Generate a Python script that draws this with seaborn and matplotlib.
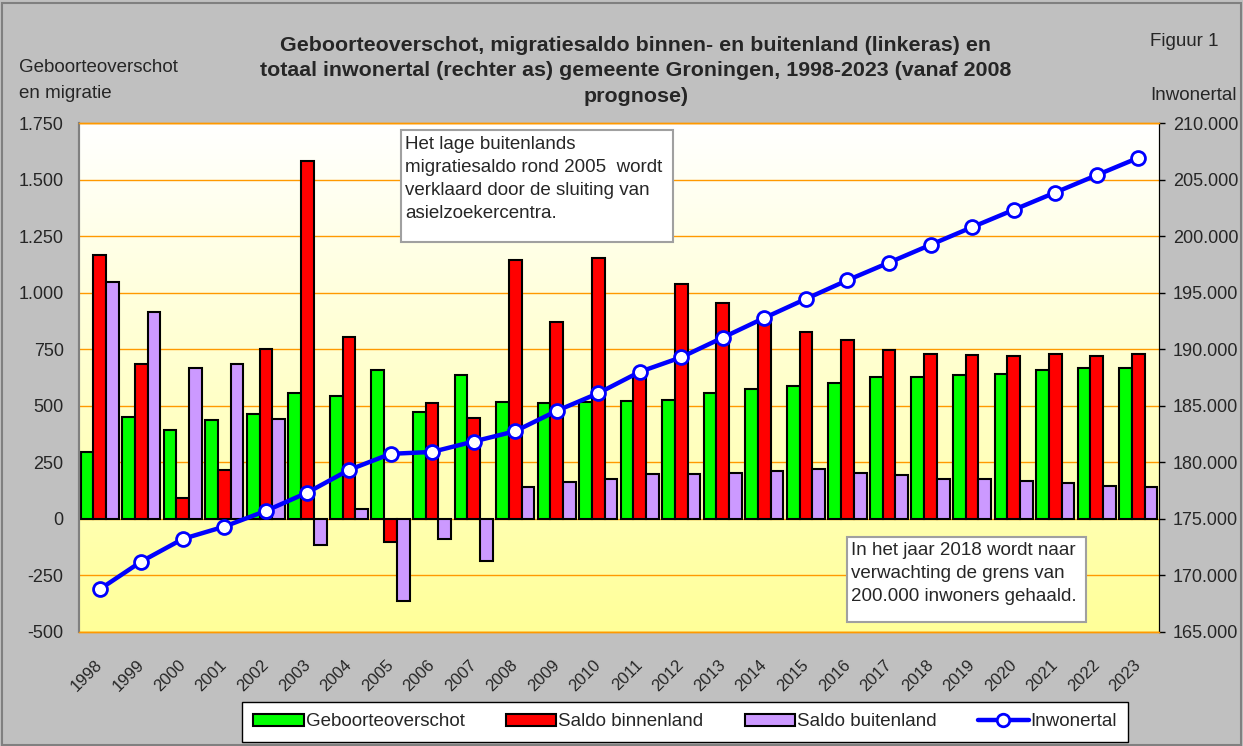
import matplotlib
matplotlib.use("Agg")
import matplotlib.pyplot as plt
import matplotlib.transforms as mtransforms
import numpy as np
import pandas as pd
import seaborn as sns
from matplotlib.lines import Line2D
from matplotlib.patches import Patch, Rectangle
from matplotlib.ticker import FuncFormatter, MultipleLocator

# waarden
jaren = [str(j) for j in range(1998, 2024)]
geboorteoverschot = [297, 449, 393, 435, 464, 555, 545, 657, 473, 636, 517, 513, 518,
                     522, 526, 557, 575, 588, 600, 626, 629, 638, 641, 660, 667, 665]
saldo_binnenland = [1167, 684, 94, 215, 753, 1580, 804, -100, 513, 445, 1145, 872, 1152,
                    629, 1037, 956, 880, 825, 790, 747, 728, 725, 722, 728, 720, 728]
saldo_buitenland = [1045, 913, 665, 684, 442, -115, 44, -365, -88, -184, 143, 161, 177,
                    197, 197, 205, 212, 221, 203, 193, 178, 177, 166, 158, 146, 141]
inwonertal = [168780, 171230, 173230, 174320, 175710, 177330, 179330, 180750, 180920,
              181840, 182750, 184550, 186110, 188000, 189290, 191030, 192770, 194450,
              196100, 197660, 199230, 200790, 202320, 203850, 205390, 206920]

reeksen = ["Geboorteoverschot", "Saldo binnenland", "Saldo buitenland"]
kleuren = ["#00FF00", "#FF0000", "#CC99FF"]

df = pd.DataFrame({"jaar": jaren,
                   reeksen[0]: geboorteoverschot,
                   reeksen[1]: saldo_binnenland,
                   reeksen[2]: saldo_buitenland})
df = df.melt(id_vars="jaar", var_name="reeks", value_name="waarde")


def nl(v, pos=None):
    return f"{v:,.0f}".replace(",", ".")


sns.set_style("white")
plt.rcParams["font.family"] = ["Liberation Sans", "DejaVu Sans"]

W, H = 1243, 746
fig = plt.figure(figsize=(W / 100, H / 100), dpi=100)
fig.patch.set_facecolor("#C0C0C0")

rect = [79 / W, 1 - 632 / H, (1159 - 79) / W, (632 - 123) / H]

# achtergrond met verloop wit -> lichtgeel
bg = fig.add_axes(rect, zorder=0)
t = np.linspace(0, 1, 256)[:, None, None]
img = np.array([1, 1, 1]) + (np.array([1, 1, 0.6]) - np.array([1, 1, 1])) * t
bg.imshow(img, aspect="auto", extent=[0, 1, 0, 1], origin="upper")
bg.axis("off")

ax = fig.add_axes(rect, zorder=1)
ax.patch.set_alpha(0)
sns.barplot(data=df, x="jaar", y="waarde", hue="reeks", palette=kleuren,
            width=0.92, edgecolor="black", linewidth=1.5, saturation=1,
            legend=False, ax=ax)
ax.set_ylim(-500, 1750)
ax.yaxis.set_major_locator(MultipleLocator(250))
ax.yaxis.set_major_formatter(FuncFormatter(nl))
ax.grid(axis="y", color="#FF9900", lw=1)
ax.set_axisbelow(True)
ax.set_xlabel("")
ax.set_ylabel("")
ax.tick_params(axis="y", length=0, labelsize=13, pad=11)
ax.tick_params(axis="x", length=0, labelsize=12, pad=18, rotation=45)
shift = mtransforms.ScaledTranslation(-5 / 100, 0, fig.dpi_scale_trans)
for lbl in ax.get_xticklabels():
    lbl.set_ha("right")
    lbl.set_rotation_mode("anchor")
    lbl.set_transform(lbl.get_transform() + shift)

tw = ax.twinx()
tw.set_zorder(2)
sns.lineplot(x=jaren, y=inwonertal, ax=tw, color="#0000FF", lw=3.2, marker="o",
             markersize=10, markerfacecolor="white", markeredgecolor="#0000FF",
             markeredgewidth=2)
tw.set_ylim(165000, 210000)
tw.yaxis.set_major_locator(MultipleLocator(5000))
tw.yaxis.set_major_formatter(FuncFormatter(nl))
tw.set_ylabel("")
tw.grid(False)
tw.tick_params(axis="y", direction="out", length=4, width=1, color="black",
               labelsize=13, pad=6, right=True)
ax.set_xlim(-0.5, 25.5)

for a in (ax, tw):
    a.spines["left"].set_color("#808080")
    a.spines["left"].set_linewidth(1.5)
    a.spines["right"].set_color("black")
    a.spines["top"].set_color("#FF9900")
    a.spines["bottom"].set_color("#FF9900")
    a.spines["top"].set_linewidth(1)
    a.spines["bottom"].set_linewidth(1)

# teksten rond de grafiek
fig.text(636 / W, 1 - 71 / H,
         "Geboorteoverschot, migratiesaldo binnen- en buitenland (linkeras) en\n"
         "totaal inwonertal (rechter as) gemeente Groningen, 1998-2023 (vanaf 2008\n"
         "prognose)", ha="center", va="center", fontsize=15.4, fontweight="bold",
         linespacing=1.45)
fig.text(19 / W, 1 - 68 / H, "Geboorteoverschot", fontsize=13.5, va="center")
fig.text(19 / W, 1 - 93 / H, "en migratie", fontsize=13.5, va="center")
fig.text(1150 / W, 1 - 42 / H, "Figuur 1", fontsize=13.5, va="center")
fig.text(1150 / W, 1 - 95 / H, "Inwonertal", fontsize=13.5, va="center")

# toelichtingen
fig.add_artist(Rectangle((401 / W, 1 - 242 / H), (673 - 401) / W, (242 - 130) / H,
                         transform=fig.transFigure, facecolor="white",
                         edgecolor="#A0A0A0", lw=1.5, zorder=5))
fig.text(405 / W, 1 - 136 / H,
         "Het lage buitenlands\nmigratiesaldo rond 2005  wordt\n"
         "verklaard door de sluiting van\nasielzoekercentra.",
         fontsize=13.5, va="top", linespacing=1.47, zorder=6)
fig.add_artist(Rectangle((847 / W, 1 - 622 / H), (1086 - 847) / W, (622 - 537) / H,
                         transform=fig.transFigure, facecolor="white",
                         edgecolor="#A0A0A0", lw=1.5, zorder=5))
fig.text(851 / W, 1 - 542 / H,
         "In het jaar 2018 wordt naar\nverwachting de grens van\n"
         "200.000 inwoners gehaald.",
         fontsize=13.5, va="top", linespacing=1.47, zorder=6)

handles = [Patch(facecolor=c, edgecolor="black", lw=1.5) for c in kleuren]
handles.append(Line2D([], [], color="#0000FF", lw=3.2, marker="o", markersize=9,
                      markerfacecolor="white", markeredgecolor="#0000FF",
                      markeredgewidth=2))
leg = fig.legend(handles, reeksen + ["Inwonertal"], loc="center",
                 bbox_to_anchor=(685 / W, 1 - 722 / H), ncol=4, fontsize=13.5,
                 frameon=True, fancybox=False, edgecolor="black", framealpha=1,
                 handlelength=2.7, handleheight=0.6, handletextpad=0.1,
                 columnspacing=2.2, borderpad=0.6)
leg.get_frame().set_linewidth(1)

fig.add_artist(Rectangle((0.002, 0.002), 0.996, 0.994, transform=fig.transFigure,
                         fill=False, edgecolor="#808080", lw=1.5))

fig.savefig("out.png", dpi=100, facecolor=fig.get_facecolor())
